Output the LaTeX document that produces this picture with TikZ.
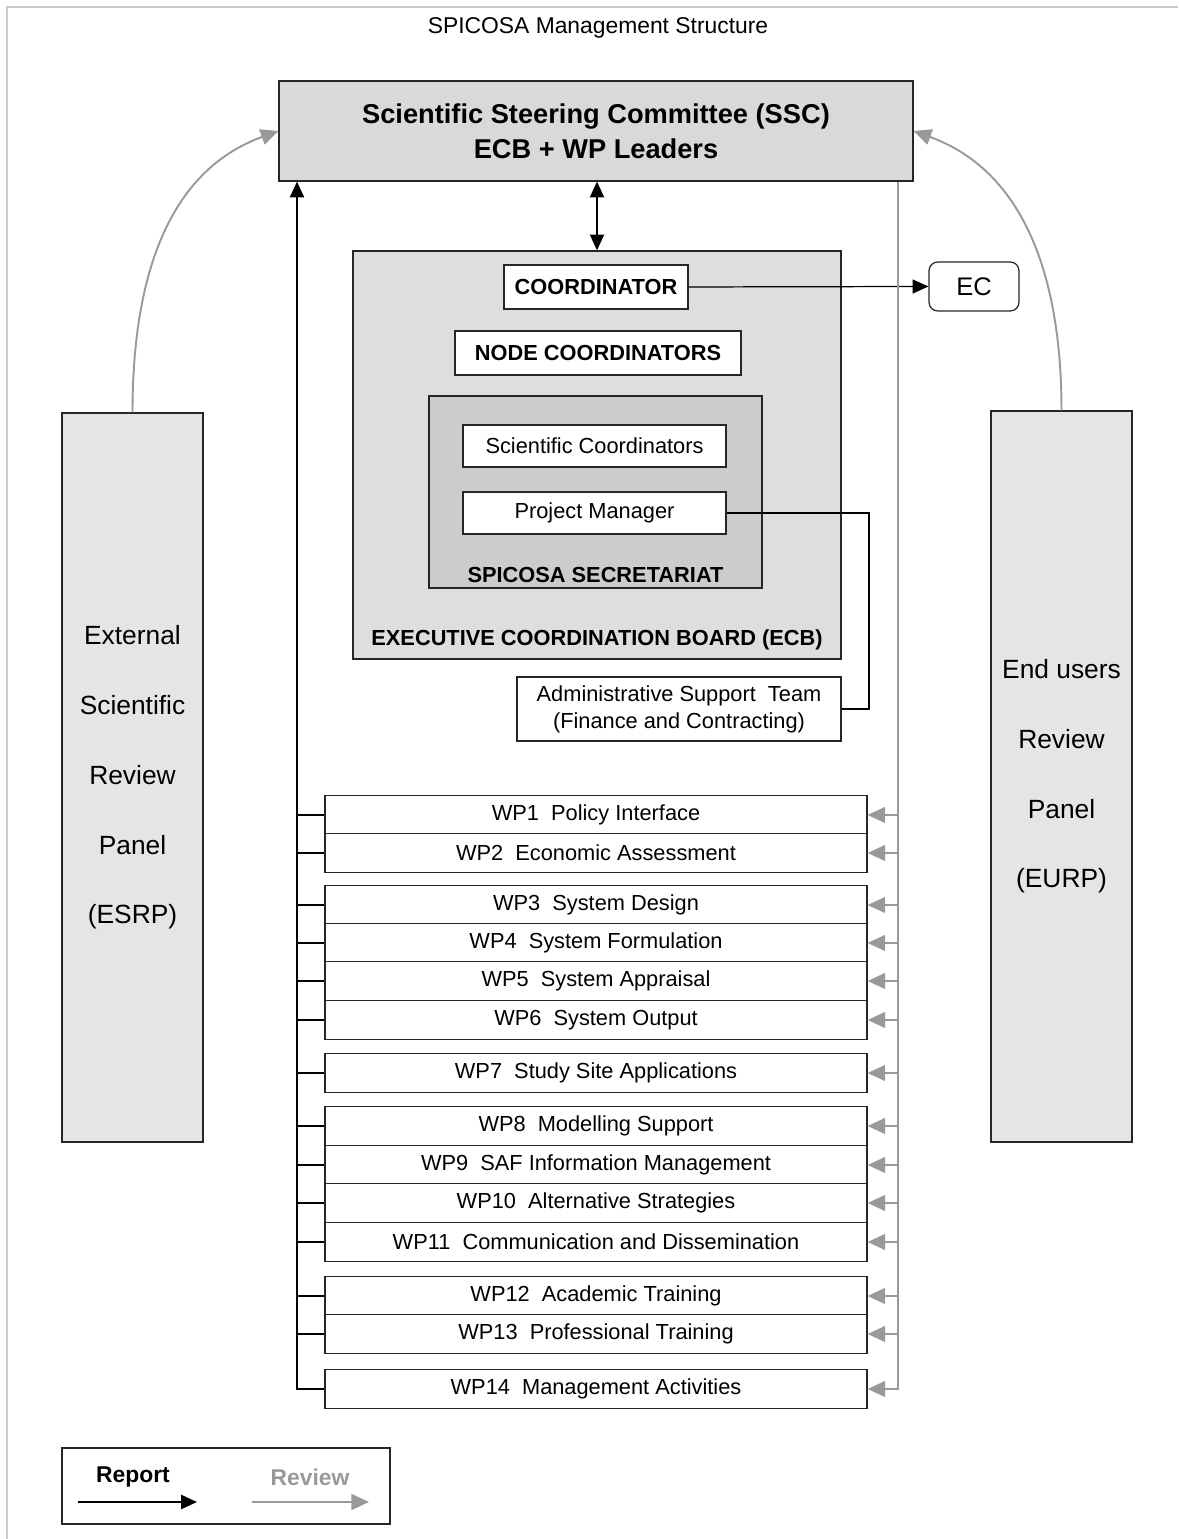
\documentclass[tikz,border=0pt]{standalone}
\usepackage{fontspec}
\setmainfont{Liberation Sans}
\usetikzlibrary{arrows.meta}

\definecolor{sscgray}{gray}{0.85}
\definecolor{ecbgray}{gray}{0.87}
\definecolor{secgray}{gray}{0.80}
\definecolor{panelgray}{gray}{0.90}
\definecolor{revgray}{gray}{0.60}
\definecolor{framegray}{gray}{0.80}

\tikzset{
  box/.style={draw=black!85, line width=0.7pt, inner sep=0pt},
  whitebox/.style={box, fill=white, font=\fontsize{12.4}{15}\selectfont},
  boldbox/.style={whitebox, font=\bfseries\fontsize{12.4}{15}\selectfont},
  wpbox/.style={whitebox, minimum width=10.84cm, minimum height=0.77cm},
  report/.style={line width=1.1pt, ->, >={Triangle[length=9pt,width=8pt]}},
  review/.style={draw=revgray, line width=1.1pt, ->, >={Triangle[length=10pt,width=9pt]}},
}

\begin{document}
\begin{tikzpicture}
  \useasboundingbox (0,0) rectangle (23.56,30.78);
  % page frame
  \draw[framegray, line width=0.6pt] (0.14,0) -- (0.14,30.64) -- (23.56,30.64);
  \node (title) at (11.96,30.22) {\fontsize{13}{15}\selectfont SPICOSA Management Structure};

  % steering committee
  \node[box, fill=sscgray, minimum width=12.68cm, minimum height=2cm, align=center,
        font=\bfseries\fontsize{15.5}{19.8}\selectfont] (ssc) at (11.92,28.16)
        {Scientific Steering Committee (SSC)\\ECB + WP Leaders};

  % executive coordination board
  \node[box, fill=ecbgray, minimum width=9.76cm, minimum height=8.16cm] (ecb) at (11.94,21.68) {};
  \node[font=\bfseries\fontsize{12.4}{15}\selectfont] (ecblabel) at (11.94,17.98) {EXECUTIVE COORDINATION BOARD (ECB)};
  \node[boldbox, minimum width=3.68cm, minimum height=0.88cm] (coord) at (11.92,25.04) {COORDINATOR};
  \node[boldbox, minimum width=5.72cm, minimum height=0.88cm] (nodecoord) at (11.96,23.72) {NODE COORDINATORS};
  \node[box, fill=secgray, minimum width=6.66cm, minimum height=3.84cm] (secr) at (11.91,20.94) {};
  \node[font=\bfseries\fontsize{12.4}{15}\selectfont] (secrlabel) at (11.91,19.28) {SPICOSA SECRETARIAT};
  \node[whitebox, minimum width=5.26cm, minimum height=0.84cm] (scicoord) at (11.89,21.86) {Scientific Coordinators};
  \node[whitebox, minimum width=5.26cm, minimum height=0.84cm] (pm) at (11.89,20.52) {Project Manager};
  \node[whitebox, minimum width=6.48cm, minimum height=1.28cm, align=center,
        font=\fontsize{12.4}{15.3}\selectfont] (admin) at (13.58,16.6)
        {Administrative Support\ \ Team\\(Finance and Contracting)};
  \node[box, fill=white, rounded corners=5pt, minimum width=1.8cm, minimum height=0.98cm,
        font=\fontsize{14.5}{17}\selectfont] (ec) at (19.48,25.05) {EC};

  % review panels
  \node[box, fill=panelgray, minimum width=2.82cm, minimum height=14.58cm, align=center,
        font=\fontsize{15}{39.7}\selectfont] (esrp) at (2.65,15.23)
        {External\\Scientific\\Review\\Panel\\(ESRP)};
  \node[box, fill=panelgray, minimum width=2.82cm, minimum height=14.62cm, align=center,
        font=\fontsize{15}{39.7}\selectfont] (eurp) at (21.23,15.25)
        {End users\\Review\\Panel\\(EURP)};

  % work packages
  \foreach \n/\y/\name in {1/14.48/Policy Interface, 2/13.72/Economic Assessment,
      3/12.68/System Design, 4/11.92/System Formulation, 5/11.16/System Appraisal,
      6/10.38/System Output, 7/9.32/Study Site Applications, 8/8.26/Modelling Support,
      9/7.48/SAF Information Management, 10/6.72/Alternative Strategies,
      11/5.94/Communication and Dissemination, 12/4.86/Academic Training,
      13/4.10/Professional Training, 14/3.00/Management Activities}
    \node[wpbox] (wp\n) at (11.92,\y) {WP\n\ \ \name};

  % report lines
  \coordinate (repx) at (5.94,0);
  \coordinate (revx) at (17.96,0);
  \coordinate (pmbend) at (17.38,20.52);
  \draw[report, <->] (ecb.north |- ssc.south) -- (ecb.north);
  \draw[report, line width=0.7pt] (coord.east) -- (ec.west);
  \draw[line width=0.7pt] (pm.east) -- (pmbend) |- (admin.east);
  \draw[report] (wp14.west) -| (repx |- ssc.south);
  \foreach \n in {1,...,13}
    \draw[line width=1.1pt] (wp\n.west -| repx) -- (wp\n.west);

  % review lines
  \draw[review] (revx |- ssc.south) |- (wp14.east);
  \foreach \n in {1,...,13}
    \draw[review] (wp\n.east -| revx) -- (wp\n.east);
  \draw[review] (esrp.north) to[out=90,in=200] (ssc.west);
  \draw[review] (eurp.north) to[out=90,in=-20] (ssc.east);

  % legend
  \node[box, fill=white, minimum width=6.56cm, minimum height=1.52cm] (legend) at (4.52,1.06) {};
  \node[font=\bfseries\fontsize{13}{15}\selectfont] (replabel) at (2.66,1.24) {Report};
  \node[font=\bfseries\fontsize{13}{15}\selectfont, text=revgray] (revlabel) at (6.2,1.24) {Review};
  \coordinate (repa) at (1.56,0.74);
  \coordinate (repb) at (3.94,0.74);
  \coordinate (reva) at (5.04,0.74);
  \coordinate (revb) at (7.38,0.74);
  \draw[report] (repa) -- (repb);
  \draw[review] (reva) -- (revb);
\end{tikzpicture}
\end{document}
